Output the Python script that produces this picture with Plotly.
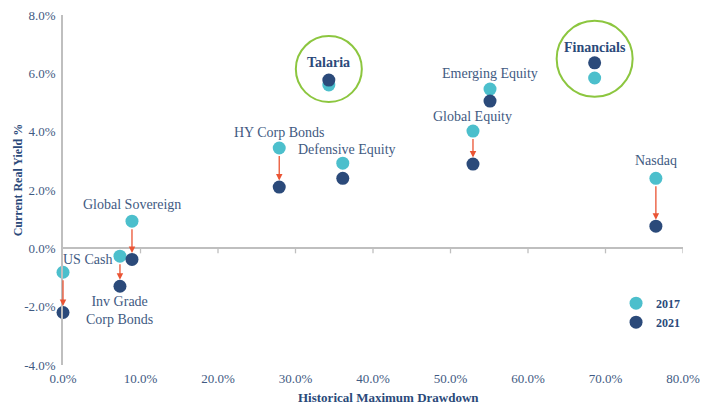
import plotly.graph_objects as go

names = ["US Cash", "Inv Grade<br>Corp Bonds", "Global Sovereign", "HY Corp Bonds",
         "Defensive Equity", "Talaria", "Emerging Equity", "Global Equity",
         "Financials", "Nasdaq"]
drawdown = [0.0, 7.35, 8.9, 27.9, 36.1, 34.3, 55.1, 52.9, 68.6, 76.5]
yield_2017 = [-0.82, -0.27, 0.93, 3.44, 2.92, 5.60, 5.46, 4.02, 5.84, 2.40]
yield_2021 = [-2.20, -1.30, -0.38, 2.10, 2.40, 5.77, 5.05, 2.89, 6.36, 0.76]
highlight = ["Talaria", "Financials"]
x_ticks = [0, 10, 20, 30, 40, 50, 60, 70, 80]
y_ticks = [-4, -2, 0, 2, 4, 6, 8]

# label offsets (pixels): above the upper point, or below the lower point
label_dx = [24, 0, 0, 0, 4, 0, 0, 0, 0, 0]
label_dy = [13, -24, 17, 16, 14, 18, 16, 15, 15, 18]
label_below = [False, True, False, False, False, False, False, False, False, False]

TEAL = "#4cbfcc"
NAVY = "#2b4a7a"
RED = "#ea5434"
GREEN = "#8cc63f"
TXT = "#3f5a82"
FONT = "Liberation Serif, DejaVu Serif, serif"

fig = go.Figure()
fig.add_trace(go.Scatter(x=drawdown, y=yield_2017, mode="markers", name="2017",
                         marker=dict(color=TEAL, size=13), cliponaxis=False))
fig.add_trace(go.Scatter(x=drawdown, y=yield_2021, mode="markers", name="2021",
                         marker=dict(color=NAVY, size=13), cliponaxis=False))

annotations = []
for i, n in enumerate(names):
    hl = n in highlight
    annotations.append(dict(
        x=drawdown[i], y=yield_2021[i], ax=drawdown[i], ay=yield_2017[i],
        xref="x", yref="y", axref="x", ayref="y", text="",
        showarrow=True, arrowhead=2, arrowsize=1, arrowwidth=1.3,
        arrowcolor=GREEN if hl else RED,
        standoff=1 if n == "Talaria" else 6.5, startstandoff=6.5))
    if label_below[i]:
        ybase = min(yield_2017[i], yield_2021[i])
    else:
        ybase = max(yield_2017[i], yield_2021[i])
    txt = f"<b>{n}</b>" if hl else n
    annotations.append(dict(
        x=drawdown[i], y=ybase, xref="x", yref="y", text=txt, showarrow=False,
        xshift=label_dx[i], yshift=label_dy[i], yanchor="middle",
        font=dict(family=FONT, size=14, color=NAVY if hl else TXT), align="center"))

# axis titles
annotations.append(dict(x=0.5, y=-0.094, xref="paper", yref="paper", xshift=15,
                        text="<b>Historical Maximum Drawdown</b>", showarrow=False,
                        yanchor="middle", font=dict(family=FONT, size=13, color=NAVY)))
annotations.append(dict(x=-0.072, y=0.5, xref="paper", yref="paper", yshift=10,
                        text="<b>Current Real Yield %</b>", showarrow=False, textangle=-90,
                        xanchor="center", font=dict(family=FONT, size=12, color=NAVY)))

shapes = []
for xv in x_ticks[1:]:
    shapes.append(dict(type="line", xref="x", yref="y", ysizemode="pixel", yanchor=0,
                       x0=xv, x1=xv, y0=0, y1=-5, line=dict(color="#bfbfbf", width=1.3)))
circle_r = {"Talaria": 33, "Financials": 38}
circle_dy = {"Talaria": 11, "Financials": 4}
for n in highlight:
    i = names.index(n)
    top = max(yield_2017[i], yield_2021[i])
    r = circle_r[n]
    d = circle_dy[n]
    shapes.append(dict(type="circle", xref="x", yref="y", xsizemode="pixel", ysizemode="pixel",
                       xanchor=drawdown[i], yanchor=top, x0=-r, x1=r, y0=d - r, y1=d + r,
                       line=dict(color=GREEN, width=2)))

fig.update_layout(
    width=713, height=407,
    margin=dict(l=63, r=30, t=15, b=42, autoexpand=False),
    plot_bgcolor="white", paper_bgcolor="white",
    font=dict(family=FONT, size=13, color=TXT),
    annotations=annotations, shapes=shapes,
    legend=dict(x=0.892, y=0.218, xanchor="left", yanchor="top",
                font=dict(family=FONT, size=12, color=NAVY, weight="bold"),
                itemwidth=30, tracegroupgap=0, bgcolor="rgba(0,0,0,0)"),
    xaxis=dict(range=[0, 80], tickvals=x_ticks, ticktext=[f"{v:.1f}%" for v in x_ticks],
               showgrid=False, zeroline=False, showline=False, automargin=False,
               ticklabelstandoff=4,
               tickfont=dict(family=FONT, size=13, color=TXT)),
    yaxis=dict(range=[-4, 8], tickvals=y_ticks, ticktext=[f"{v:.1f}%" for v in y_ticks],
               showgrid=False, zeroline=True, zerolinecolor="#bfbfbf", zerolinewidth=1.5,
               showline=True, linecolor="#bfbfbf", linewidth=1.5, automargin=False,
               ticklabelstandoff=3,
               tickfont=dict(family=FONT, size=13, color=TXT)),
)

fig.write_html("out.html", config={"displayModeBar": False},
               post_script="document.body.style.margin='0';document.body.style.overflow='hidden';")
